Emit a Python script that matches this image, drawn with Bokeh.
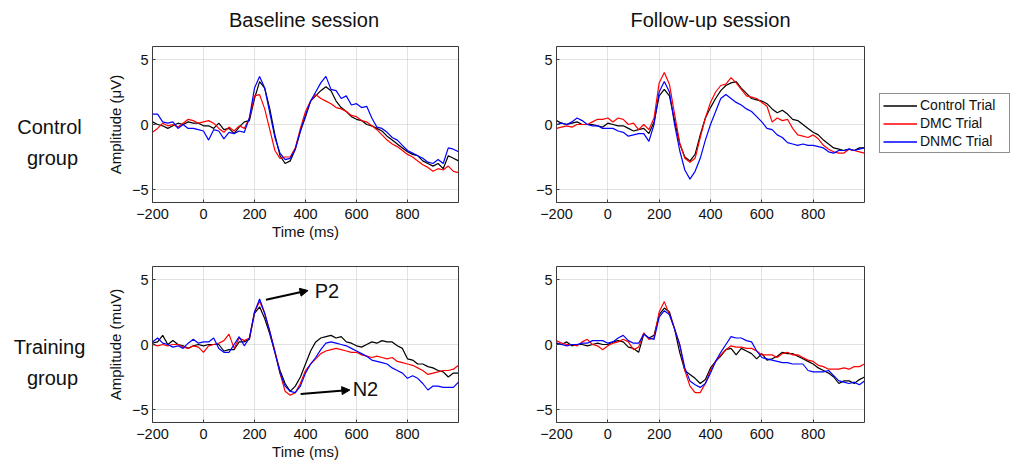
from bokeh.plotting import figure
from bokeh.layouts import column, row
from bokeh.models import Range1d, Label, Arrow, NormalHead, Legend, LegendItem, FixedTicker
from bokeh.embed import file_html
from bokeh.resources import INLINE

# ---------------- data ----------------
time_ms = list(range(-200, 1001, 20))
x_ticks = [-200, 0, 200, 400, 600, 800]
y_ticks = [-5, 0, 5]
series_names = ["Control Trial", "DMC Trial", "DNMC Trial"]
series_colors = ["#000000", "#ff0000", "#0000ff"]
col_titles = ["Baseline session", "Follow-up session"]
row_titles = [["Control", "group"], ["Training", "group"]]

# Baseline session, control group
base_ctrl_control = [0.2, 0.0, -0.1, -0.3, -0.1, 0.1, 0.0, 0.2, 0.1, 0.1,
                     -0.1, -0.1, -0.3, 0.1, -0.4, -0.3, -0.7, -0.2, 0.2, 0.3,
                     2.0, 3.3, 2.8, 1.2, -0.8, -2.4, -3.0, -2.8, -1.9, -0.5,
                     0.6, 1.8, 2.2, 2.6, 2.9, 2.6, 1.8, 1.3, 1.0, 0.6,
                     0.4, 0.3, 0.0, -0.1, -0.3, -0.5, -0.9, -1.2, -1.5, -1.8,
                     -2.1, -2.3, -2.4, -2.8, -3.0, -3.2, -3.0, -3.4, -2.4, -2.6, -2.8]
base_ctrl_dmc = [-0.6, -0.3, 0.1, -0.1, 0.0, -0.2, 0.1, 0.4, 0.3, 0.1,
                 0.2, 0.3, 0.1, -0.3, -0.6, -0.2, -0.5, -0.1, -0.3, 0.5,
                 2.2, 2.3, 1.2, -0.4, -2.0, -2.6, -2.5, -2.5, -1.8, -0.3,
                 1.0, 1.8, 2.3, 2.0, 1.8, 1.6, 1.3, 1.2, 1.0, 0.7,
                 0.6, 0.3, 0.2, -0.1, -0.4, -0.8, -1.2, -1.5, -1.7, -2.0,
                 -2.3, -2.5, -2.8, -3.1, -3.3, -3.6, -3.4, -3.5, -3.2, -3.6, -3.7]
base_ctrl_dnmc = [0.8, 0.8, 0.2, 0.1, 0.2, -0.3, 0.0, -0.3, -0.3, -0.4,
                  -0.5, -1.2, -0.4, -0.5, -1.1, -0.6, -0.7, -0.5, -0.6, 0.5,
                  2.8, 3.7, 2.8, 0.9, -1.0, -2.2, -2.7, -2.6, -1.9, -0.5,
                  0.7, 1.8, 2.5, 3.2, 3.7, 2.7, 2.6, 2.0, 2.2, 1.5,
                  1.6, 1.3, 1.4, 0.5, -0.2, -0.3, -0.6, -1.0, -1.2, -1.6,
                  -2.0, -2.2, -2.4, -2.6, -2.9, -3.0, -2.7, -3.0, -1.8, -1.9, -2.1]

# Follow-up session, control group
follow_ctrl_control = [0.3, 0.1, 0.0, 0.1, 0.2, 0.0, 0.0, 0.0, -0.1, -0.2,
                       0.1, 0.0, -0.1, -0.1, -0.3, -0.5, -0.4, -0.3, -0.7, 0.2,
                       2.2, 2.7, 2.2, 0.3, -1.5, -2.5, -2.8, -2.3, -0.8, 0.5,
                       1.3, 2.0, 2.6, 3.0, 3.2, 3.3, 2.8, 2.4, 2.0, 1.9,
                       1.8, 1.6, 1.2, 0.9, 1.1, 0.8, 0.4, 0.3, 0.0, -0.3,
                       -0.6, -0.8, -1.2, -1.5, -1.8, -1.9, -2.0, -1.9, -2.0, -1.8, -1.8]
follow_ctrl_dmc = [-0.3, -0.2, -0.1, -0.2, 0.0, 0.0, 0.0, 0.2, 0.4, 0.4,
                   0.5, 0.2, 0.5, 0.4, 0.0, 0.1, -0.4, 0.0, -0.4, 0.5,
                   3.2, 4.0, 3.1, 0.8, -1.4, -2.6, -2.9, -2.6, -1.0, 0.5,
                   1.7, 2.5, 3.0, 3.1, 3.6, 3.2, 2.7, 2.2, 2.1, 2.0,
                   1.7, 1.4, 0.2, 0.5, 0.3, 0.4, -0.3, -0.8, -0.9, -1.0,
                   -0.8, -1.1, -1.6, -1.9, -2.1, -2.2, -2.2, -1.9, -2.0, -2.1, -2.2]
follow_ctrl_dnmc = [0.0, 0.1, 0.0, 0.2, 0.5, 0.3, 0.0, -0.1, -0.1, -0.3,
                    -0.3, -0.3, -0.5, -0.6, -0.9, -0.8, -0.7, -0.7, -1.3, 0.0,
                    2.5, 3.3, 2.5, 0.0, -2.0, -3.5, -4.2, -3.6, -2.6, -1.2,
                    0.0, 1.0, 2.0, 2.3, 2.0, 1.7, 1.5, 1.2, 1.0, 0.6,
                    0.2, -0.3, -0.4, -0.8, -1.0, -1.4, -1.5, -1.6, -1.5, -1.6,
                    -1.6, -1.7, -1.8, -2.1, -2.2, -2.0, -2.0, -1.9, -2.0, -1.9, -1.8]

# Baseline session, training group
base_train_control = [0.1, 0.2, 0.7, 0.0, 0.3, 0.0, -0.1, -0.3, -0.1, 0.0,
                      -0.1, 0.0, 0.0, 0.0, -0.5, -0.4, -0.4, 0.2, 0.2, 0.4,
                      2.4, 2.9, 2.0, 0.8, -0.6, -2.0, -3.0, -3.6, -3.2, -2.5,
                      -1.5, -0.5, 0.2, 0.5, 0.6, 0.7, 0.5, 0.6, 0.2, 0.1,
                      -0.1, -0.2, 0.0, 0.2, 0.1, 0.3, 0.2, 0.2, -0.1, -0.3,
                      -1.1, -1.2, -1.5, -1.5, -1.7, -1.8, -2.0, -2.1, -2.5, -2.2, -2.2]
base_train_dmc = [0.0, -0.1, 0.0, -0.1, 0.0, 0.0, -0.2, -0.3, -0.1, -0.2,
                  -0.6, -0.1, 0.0, 0.1, 0.3, 0.8, -0.3, 0.5, 0.3, 0.5,
                  2.5, 3.3, 2.4, 1.0, -0.5, -2.2, -3.6, -3.9, -3.7, -3.0,
                  -2.0, -1.5, -1.1, -0.7, -0.5, -0.4, -0.3, -0.4, -0.5, -0.6,
                  -0.6, -0.8, -0.9, -1.0, -0.9, -1.0, -1.1, -1.0, -1.3, -1.4,
                  -1.5, -1.6, -1.8, -2.0, -2.3, -2.2, -2.1, -2.0, -2.0, -1.9, -1.6]
base_train_dnmc = [0.2, 0.5, 0.1, 0.0, -0.2, -0.1, -0.3, 0.1, 0.4, 0.1,
                   0.2, 0.2, 0.5, -0.3, -0.6, -0.6, 0.0, 0.6, -0.1, 0.5,
                   2.5, 3.5, 2.4, 1.0, -0.6, -2.2, -3.2, -3.6, -3.7, -3.2,
                   -2.2, -1.5, -1.0, -0.4, 0.1, 0.2, 0.1, 0.0, -0.1, -0.3,
                   -0.5, -0.7, -0.9, -1.2, -1.3, -1.4, -1.5, -1.8, -2.0, -2.2,
                   -2.6, -2.4, -2.6, -3.0, -3.5, -3.2, -3.2, -3.3, -3.3, -3.3, -2.9]

# Follow-up session, training group
follow_train_control = [0.1, 0.0, 0.2, -0.1, 0.0, 0.0, -0.1, 0.0, 0.1, 0.0,
                        0.0, 0.2, 0.3, 0.2, -0.2, -0.3, -0.6, 0.8, 0.5, 0.7,
                        2.3, 2.8, 2.5, 1.2, -0.6, -2.0, -2.3, -2.6, -3.0, -2.7,
                        -1.8, -1.3, -0.9, -0.4, -0.3, -0.8, -0.3, -0.5, -0.7, -1.1,
                        -0.7, -1.2, -1.1, -0.9, -0.6, -0.7, -0.7, -0.9, -1.1, -1.3,
                        -1.5, -1.8, -2.0, -2.2, -2.5, -3.0, -2.8, -2.8, -3.0, -2.7, -2.5]
follow_train_dmc = [0.3, 0.1, 0.0, 0.0, -0.1, 0.2, 0.4, 0.0, -0.1, -0.4,
                    -0.1, 0.1, 0.2, 0.4, 0.2, -0.4, -0.2, 0.9, 0.4, 0.5,
                    2.5, 3.3, 2.3, 1.2, 0.0, -2.0, -3.2, -3.7, -3.7, -3.0,
                    -2.0, -1.3, -0.8, -0.4, -0.1, -0.2, -0.2, -0.3, -0.3, -0.5,
                    -0.8, -0.8, -0.8, -1.0, -0.7, -0.6, -0.8, -0.8, -1.0, -1.2,
                    -1.3, -1.6, -1.7, -1.9, -1.9, -1.9, -1.8, -1.9, -1.7, -1.7, -1.5]
follow_train_dnmc = [0.1, 0.0, -0.1, 0.0, 0.0, 0.1, 0.1, 0.3, 0.3, 0.3,
                     0.1, 0.2, 0.5, 0.7, 0.3, 0.1, 0.1, 0.8, 0.5, 0.4,
                     2.1, 2.6, 2.3, 1.2, 0.0, -1.8, -2.8, -3.1, -3.3, -3.0,
                     -2.2, -1.3, -0.6, 0.0, 0.6, 0.5, 0.5, 0.3, 0.2, -0.5,
                     -1.0, -1.1, -1.2, -1.3, -1.4, -1.4, -1.5, -1.5, -1.5, -2.0,
                     -2.1, -2.1, -2.1, -2.0, -2.4, -2.8, -2.9, -3.0, -2.9, -3.1, -2.8]

# annotation points (time ms, amplitude) for the training/baseline panel
p2_arrow = [245, 3.45, 410, 4.15]
p2_text = [484, 4.1]
n2_arrow = [381, -3.8, 574, -3.5]
n2_text = [635, -3.45]

FONT = "Liberation Sans"
TEXT_COLOR = "#111111"

TITLE_H = 30
ROW1_H = 213
ROW2_H = 220
W_LAB, W_LEFT, W_RIGHT, W_LEG = 103, 375, 394, 138


def make_panel(width, height, bl, br, bt, bb, data, ylabel=None, xlabel=None):
    p = figure(width=width, height=height,
               x_range=Range1d(-200, 1000), y_range=Range1d(-6, 6),
               output_backend="svg", toolbar_location=None,
               min_border_left=bl, min_border_right=br,
               min_border_top=bt, min_border_bottom=bb)
    p.background_fill_color = "white"
    p.border_fill_color = "white"
    p.outline_line_color = "#3a3a3a"
    p.outline_line_width = 1
    p.xaxis.ticker = FixedTicker(ticks=x_ticks)
    p.yaxis.ticker = FixedTicker(ticks=y_ticks)
    for ax in (p.xaxis[0], p.yaxis[0]):
        ax.axis_line_color = None
        ax.major_tick_in = 3
        ax.major_tick_out = 0
        ax.minor_tick_line_color = None
        ax.major_tick_line_color = "#3a3a3a"
        ax.major_label_text_font = FONT
        ax.major_label_text_font_size = "14.5px"
        ax.major_label_text_color = TEXT_COLOR
        ax.axis_label_text_font = FONT
        ax.axis_label_text_font_size = "15px"
        ax.axis_label_text_font_style = "normal"
        ax.axis_label_text_color = TEXT_COLOR
    p.xaxis.major_label_standoff = 6
    p.xaxis.axis_label_standoff = 1
    p.yaxis.major_label_standoff = 4
    p.yaxis.axis_label_standoff = 5
    if xlabel:
        p.xaxis.axis_label = xlabel
    if ylabel:
        p.yaxis.axis_label = ylabel
    for g in (p.xgrid[0], p.ygrid[0]):
        g.grid_line_color = "#c4c4c4"
        g.grid_line_dash = "1 1"
        g.grid_line_width = 1
    renderers = []
    for vals, col in zip(data, series_colors):
        r = p.line(time_ms, vals, line_color=col, line_width=1.2)
        renderers.append(r)
    return p, renderers


def blank_fig(width, height, x_range=None):
    p = figure(width=width, height=height,
               x_range=x_range if x_range is not None else Range1d(0, 1),
               y_range=Range1d(-6, 6),
               output_backend="svg", toolbar_location=None,
               x_axis_location=None, y_axis_location=None,
               min_border=0, min_border_left=0, min_border_right=0,
               min_border_top=0, min_border_bottom=0)
    p.outline_line_color = None
    p.xgrid.visible = False
    p.ygrid.visible = False
    p.background_fill_color = "white"
    p.border_fill_color = "white"
    return p


def text_label(x, y, txt, size="20px"):
    return Label(x=x, y=y, x_units="screen", y_units="screen", text=txt,
                 text_align="center", text_baseline="middle",
                 text_font=FONT, text_font_size=size, text_color=TEXT_COLOR)


# column-title strip
t_lab = blank_fig(W_LAB, TITLE_H)
t_left = blank_fig(W_LEFT, TITLE_H)
t_right = blank_fig(W_RIGHT, TITLE_H)
t_left.add_layout(text_label(200.5, 11, col_titles[0]))
t_right.add_layout(text_label(232, 11, col_titles[1]))

# panels (frames: top row y 46-202, bottom row y 266-422)
tl, _ = make_panel(W_LEFT, ROW1_H, 46, 20, 16, 41,
                   [base_ctrl_control, base_ctrl_dmc, base_ctrl_dnmc],
                   ylabel="Amplitude (\u03bcV)", xlabel="Time (ms)")
tr, _ = make_panel(W_RIGHT, ROW1_H, 78, 8, 16, 41,
                   [follow_ctrl_control, follow_ctrl_dmc, follow_ctrl_dnmc])
bl, _ = make_panel(W_LEFT, ROW2_H, 46, 20, 23, 41,
                   [base_train_control, base_train_dmc, base_train_dnmc],
                   ylabel="Amplitude (muV)", xlabel="Time (ms)")
br, _ = make_panel(W_RIGHT, ROW2_H, 78, 8, 23, 41,
                   [follow_train_control, follow_train_dmc, follow_train_dnmc])

# row title strips (their frames align with the panel frames of the same row)
lab_top = blank_fig(W_LAB, ROW1_H)
lab_bot = blank_fig(W_LAB, ROW2_H)
for p, (a, b) in ((lab_top, row_titles[0]), (lab_bot, row_titles[1])):
    p.add_layout(text_label(49, 76, a))
    p.add_layout(text_label(52, 45, b))

# P2 / N2 annotations
for arr, txt, lab in ((p2_arrow, p2_text, "P2"), (n2_arrow, n2_text, "N2")):
    bl.add_layout(Arrow(end=NormalHead(size=8, fill_color="black", line_color="black"),
                        x_start=arr[0], y_start=arr[1], x_end=arr[2], y_end=arr[3],
                        line_color="black", line_width=2))
    bl.add_layout(Label(x=txt[0], y=txt[1], text=lab, text_align="center",
                        text_baseline="middle", text_font=FONT,
                        text_font_size="20px", text_color=TEXT_COLOR))

# legend strip: legend glyphs come from the follow-up/control series, drawn out of view
leg_fig = blank_fig(W_LEG, ROW1_H, x_range=Range1d(5000, 5138))
leg_items = []
for name, vals, c in zip(series_names,
                         [follow_ctrl_control, follow_ctrl_dmc, follow_ctrl_dnmc],
                         series_colors):
    r = leg_fig.line(time_ms, vals, line_color=c, line_width=1.3)
    leg_items.append(LegendItem(label=name, renderers=[r]))
legend = Legend(items=leg_items, location=(7, 49))
legend.border_line_color = "#222222"
legend.border_line_width = 1
legend.background_fill_color = "white"
legend.background_fill_alpha = 1
legend.label_text_font = FONT
legend.label_text_font_size = "14px"
legend.label_text_color = TEXT_COLOR
legend.glyph_width = 34
legend.glyph_height = 15
legend.label_height = 16
legend.label_width = 86
legend.spacing = 2
legend.padding = 3
legend.margin = 0
legend.label_standoff = 3
leg_fig.add_layout(legend)

layout = column(row(t_lab, t_left, t_right, spacing=0),
                row(lab_top, tl, tr, leg_fig, spacing=0),
                row(lab_bot, bl, br, spacing=0), spacing=0)

with open("out.html", "w") as f:
    f.write(file_html(layout, INLINE))
